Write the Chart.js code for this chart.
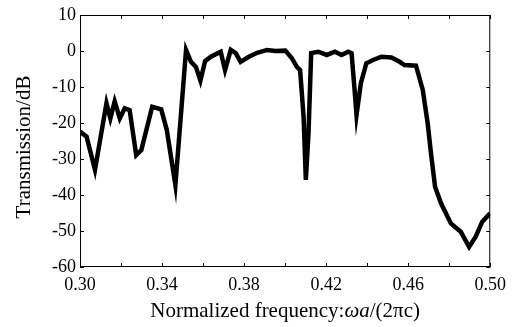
<!DOCTYPE html>
<html>
<head>
<meta charset="utf-8">
<script src="https://cdn.jsdelivr.net/npm/chart.js@4.4.0/dist/chart.umd.min.js"></script>
<style>
  html, body { margin: 0; padding: 0; background: #fff; }
  #wrap { width: 513px; height: 327px; }
</style>
</head>
<body>
<div id="wrap"><canvas id="TransChart"></canvas></div>
<script>
// frequency (omega a / 2 pi c) and transmission (dB)
var freq = [0.300, 0.3032, 0.3073, 0.3129, 0.3148, 0.3169, 0.3194, 0.3218, 0.3242, 0.3274,
            0.3299, 0.3352, 0.3396, 0.3423, 0.3465, 0.3517, 0.3541, 0.3565, 0.3587, 0.3610,
            0.3638, 0.3686, 0.3707, 0.3735, 0.3759, 0.3783, 0.3823, 0.3864, 0.3912, 0.3952,
            0.4001, 0.4033, 0.4057, 0.4073, 0.4090, 0.4101, 0.4114, 0.4127, 0.4162, 0.4203,
            0.4243, 0.4275, 0.4308, 0.4324, 0.4340, 0.4348, 0.4369, 0.4396, 0.4429, 0.4469,
            0.4518, 0.4558, 0.4582, 0.4638, 0.4671, 0.4695, 0.4711, 0.4731, 0.4760, 0.4808,
            0.4856, 0.4897, 0.4929, 0.4961, 0.4999];
var trans = [-22.4, -23.8, -33.0, -14.5, -18.7, -14.0, -18.7, -15.9, -16.4, -28.9,
             -27.5, -15.5, -16.2, -21.9, -37.2, 0.3, -3.0, -4.4, -8.2, -2.8,
             -1.6, -0.2, -5.3, 0.3, -0.6, -3.0, -1.6, -0.5, 0.3, 0.0,
             0.1, -2.0, -4.4, -5.3, -18.2, -35.8, -22.8, -0.6, -0.2, -1.1,
             -0.2, -1.1, -0.2, -0.6, -11.8, -17.8, -9.0, -3.4, -2.5, -1.6,
             -1.8, -3.0, -3.9, -4.1, -10.8, -20.1, -28.4, -37.7, -42.3, -47.9,
             -50.2, -54.4, -51.6, -47.4, -45.1];

var xMin = 0.30, xMax = 0.50, xStep = 0.02;
var yMin = -60, yMax = 10, yStep = 10;

// axis titles; x title pieces: [text, italic?]
var xTitle = [['Normalized frequency:', false], ['ωa', true], ['/(2πc)', false]];
var yTitle = 'Transmission/dB';

var points = freq.map(function (f, i) { return { x: f, y: trans[i] }; });

var serif = '"Liberation Serif", "DejaVu Serif", serif';

// box around the plot with inward ticks on all four sides, plus the titles
var framePlugin = {
    id: 'frame',
    afterDraw: function (chart) {
        var c = chart.ctx, a = chart.chartArea;
        var xs = chart.scales.x, ys = chart.scales.y;
        c.save();
        c.strokeStyle = '#000';
        c.lineWidth = 1;
        c.strokeRect(a.left + 0.5, a.top + 0.5, a.right - a.left - 1, a.bottom - a.top - 1);
        c.beginPath();
        xs.ticks.forEach(function (t) {
            var px = Math.round(xs.getPixelForValue(t.value)) + 0.5;
            c.moveTo(px, a.bottom); c.lineTo(px, a.bottom - 4);
            c.moveTo(px, a.top); c.lineTo(px, a.top + 4);
        });
        ys.ticks.forEach(function (t) {
            var py = Math.round(ys.getPixelForValue(t.value)) + 0.5;
            c.moveTo(a.left, py); c.lineTo(a.left + 4, py);
            c.moveTo(a.right, py); c.lineTo(a.right - 4, py);
        });
        c.stroke();

        var size = 21;
        var fontOf = function (it) { return (it ? 'italic ' : '') + size + 'px ' + serif; };
        c.fillStyle = '#000';
        c.textBaseline = 'middle';

        // x axis title with italic omega a
        var total = 0;
        xTitle.forEach(function (p) { c.font = fontOf(p[1]); total += c.measureText(p[0]).width; });
        var x = (a.left + a.right) / 2 - total / 2;
        c.textAlign = 'left';
        xTitle.forEach(function (p) {
            c.font = fontOf(p[1]);
            c.fillText(p[0], x, 311);
            x += c.measureText(p[0]).width;
        });

        // y axis title
        c.font = fontOf(false);
        c.textAlign = 'center';
        c.translate(24, 147);
        c.rotate(-Math.PI / 2);
        c.fillText(yTitle, 0, 0);
        c.restore();
    }
};

var ctx = document.getElementById('TransChart');
var chart = new Chart(ctx, {
    type: 'line',
    data: {
        datasets: [{
            label: 'Transmission',
            data: points,
            borderColor: '#000',
            borderWidth: 4.5,
            pointRadius: 0,
            tension: 0,
            fill: false
        }]
    },
    options: {
        responsive: true,
        maintainAspectRatio: false,
        animation: false,
        layout: { padding: { top: 15, right: 20, left: 0, bottom: 0 } },
        plugins: {
            legend: { display: false },
            tooltip: { enabled: false }
        },
        scales: {
            x: {
                type: 'linear',
                min: xMin,
                max: xMax,
                grid: { display: false, drawTicks: false },
                border: { display: false },
                ticks: {
                    stepSize: xStep,
                    color: '#000',
                    padding: 7,
                    maxRotation: 0,
                    autoSkip: false,
                    font: { family: serif, size: 18 },
                    callback: function (v) {
                        var k = Math.round((v - xMin) / xStep);
                        return k % 2 === 0 ? v.toFixed(2) : '';
                    }
                },
                afterFit: function (s) { s.height = 60; }
            },
            y: {
                min: yMin,
                max: yMax,
                grid: { display: false, drawTicks: false },
                border: { display: false },
                ticks: {
                    stepSize: yStep,
                    color: '#000',
                    padding: 4,
                    font: { family: serif, size: 18 }
                },
                afterFit: function (s) { s.width = 80; }
            }
        }
    },
    plugins: [framePlugin]
});
</script>
</body>
</html>
